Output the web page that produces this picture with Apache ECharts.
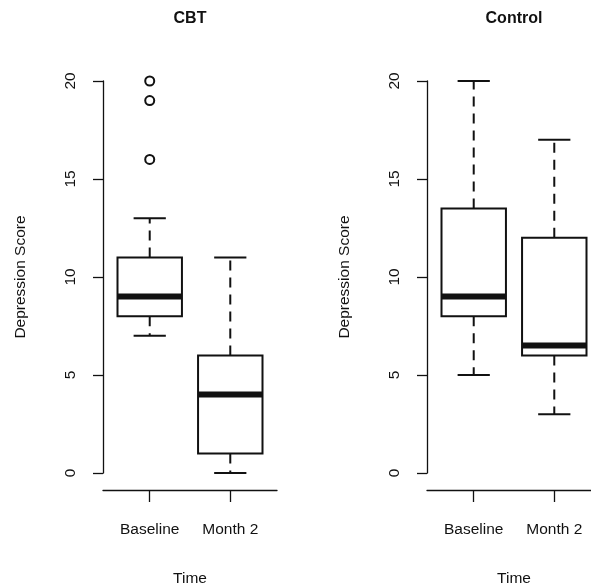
<!DOCTYPE html>
<html>
<head>
<meta charset="utf-8">
<script src="https://cdn.jsdelivr.net/npm/echarts@6/dist/echarts.min.js"></script>
<style>
html,body{margin:0;padding:0;background:#fff;}
#chart{width:591px;height:584px;}
</style>
</head>
<body>
<div id="chart"></div>
<script>
// ---- data ----
const categories = ['Baseline', 'Month 2'];
const panelTitles = ['CBT', 'Control'];
// [low whisker, Q1, median, Q3, high whisker]
const cbtStats = [[7, 8, 9, 11, 13], [0, 1, 4, 6, 11]];
const controlStats = [[5, 8, 9, 13.5, 20], [3, 6, 6.5, 12, 17]];
// [category position (1-based), value]
const cbtOutliers = [[1, 16], [1, 19], [1, 20]];
const controlOutliers = [];
const yTicks = [0, 5, 10, 15, 20];

const FONT = "'Liberation Sans', Arial, sans-serif";
const INK = '#111';

function boxData(stats) {
  return stats.map((s, i) => [i + 1].concat(s));
}

function renderBox(params, api) {
  const x = api.value(0);
  const lo = api.value(1), q1 = api.value(2), med = api.value(3), q3 = api.value(4), hi = api.value(5);
  const boxW = api.size([0.8, 0])[0];
  const capW = boxW / 2;
  const pLo = api.coord([x, lo]), pQ1 = api.coord([x, q1]), pMed = api.coord([x, med]);
  const pQ3 = api.coord([x, q3]), pHi = api.coord([x, hi]);
  const cx = pLo[0];
  const dashStyle = {stroke: INK, lineWidth: 2, lineDash: [10, 7], fill: null};
  const solid = {stroke: INK, lineWidth: 2, fill: null};
  return {
    type: 'group',
    children: [
      {type: 'line', shape: {x1: cx, y1: pQ3[1], x2: cx, y2: pHi[1]}, style: dashStyle},
      {type: 'line', shape: {x1: cx, y1: pQ1[1], x2: cx, y2: pLo[1]}, style: dashStyle},
      {type: 'line', shape: {x1: cx - capW / 2, y1: pHi[1], x2: cx + capW / 2, y2: pHi[1]}, style: solid},
      {type: 'line', shape: {x1: cx - capW / 2, y1: pLo[1], x2: cx + capW / 2, y2: pLo[1]}, style: solid},
      {type: 'rect', shape: {x: cx - boxW / 2, y: pQ3[1], width: boxW, height: pQ1[1] - pQ3[1]},
        style: {stroke: INK, lineWidth: 2, fill: '#fff'}},
      {type: 'line', shape: {x1: cx - boxW / 2, y1: pMed[1], x2: cx + boxW / 2, y2: pMed[1]},
        style: {stroke: INK, lineWidth: 6}}
    ]
  };
}

// panel layout (px): full plot width 174 => 80.5 px per category unit
const lefts = [103, 427];
const CW = 174;                      // nominal panel width
const pxPerUnit = CW / 2.16;
const widths = lefts.map(l => Math.min(CW, 591 - l));
const grids = lefts.map((l, i) => ({
  left: l, top: 81, width: widths[i], height: 392, containLabel: false, outerBoundsMode: 'none'
}));

const xAxes = lefts.map((l, i) => ({
  type: 'value', gridIndex: i, min: 0.42, max: 0.42 + widths[i] / pxPerUnit,
  offset: 17,
  axisLine: {show: true, onZero: false, lineStyle: {color: INK, width: 1.3}},
  axisTick: {show: true, length: 12, customValues: [1, 2], lineStyle: {color: INK, width: 1.3}},
  axisLabel: {show: true, customValues: [1, 2], margin: 32, color: INK, fontSize: 15.5, fontFamily: FONT,
    formatter: v => categories[Math.round(v) - 1] || ''},
  splitLine: {show: false},
  name: 'Time', nameLocation: 'middle', nameGap: 81,
  nameTextStyle: {color: INK, fontSize: 15.5, fontFamily: FONT,
    padding: [0, 0, 0, CW - widths[i]]}
}));

const yAxes = lefts.map((l, i) => ({
  type: 'value', gridIndex: i, min: 0, max: 20, interval: 5,
  axisLine: {show: true, lineStyle: {color: INK, width: 1.3}},
  axisTick: {show: true, length: 10, lineStyle: {color: INK, width: 1.3}},
  axisLabel: {show: true, rotate: 90, margin: 24, color: INK, fontSize: 15.5, fontFamily: FONT,
    customValues: yTicks},
  splitLine: {show: false},
  name: 'Depression Score', nameLocation: 'middle', nameRotate: 90, nameGap: 74,
  nameTextStyle: {color: INK, fontSize: 15.5, fontFamily: FONT}
}));

const titles = panelTitles.map((t, i) => ({
  text: t, left: lefts[i] + CW / 2, top: 11, textAlign: 'center', padding: 0,
  textStyle: {color: INK, fontSize: 16, fontWeight: 'bold', fontFamily: FONT}
}));

const allStats = [cbtStats, controlStats];
const allOut = [cbtOutliers, controlOutliers];
const series = [];
allStats.forEach((st, i) => {
  series.push({
    type: 'custom', xAxisIndex: i, yAxisIndex: i, renderItem: renderBox,
    data: boxData(st), encode: {x: 0, y: [1, 2, 3, 4, 5]}, silent: true, animation: false
  });
  series.push({
    type: 'scatter', xAxisIndex: i, yAxisIndex: i, data: allOut[i],
    symbol: 'circle', symbolSize: 9,
    itemStyle: {color: '#fff', borderColor: INK, borderWidth: 2, opacity: 1},
    silent: true, animation: false
  });
});

const chart = echarts.init(document.getElementById('chart'), null, {renderer: 'canvas'});
chart.setOption({
  backgroundColor: '#fff',
  animation: false,
  title: titles,
  grid: grids,
  xAxis: xAxes,
  yAxis: yAxes,
  series: series
});
</script>
</body>
</html>
